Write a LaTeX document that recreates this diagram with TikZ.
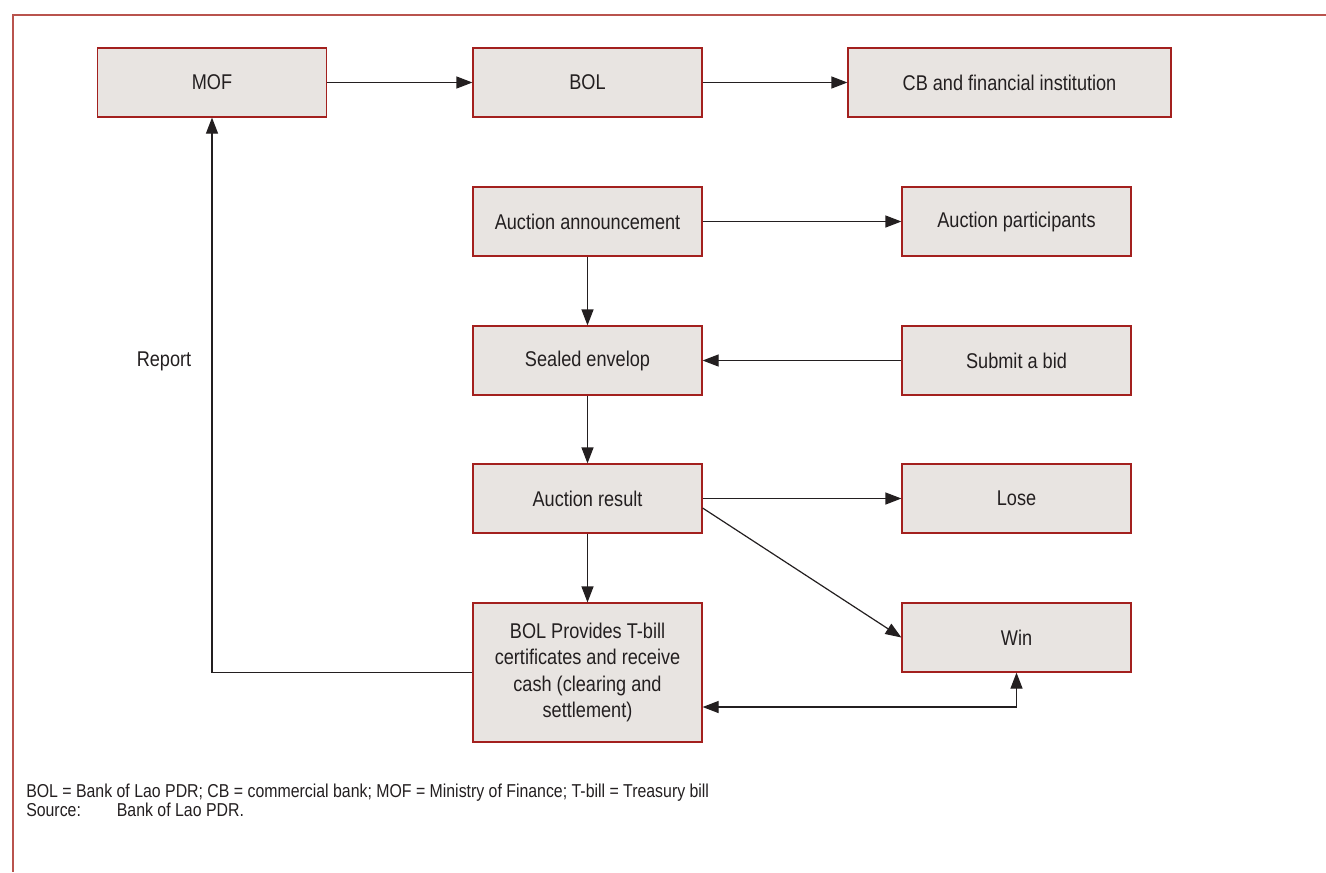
\documentclass[tikz,border=0pt]{standalone}
\usepackage{fontspec}
\setmainfont{Liberation Sans}[FakeStretch=0.85]
\usetikzlibrary{arrows.meta,calc}
\definecolor{boxfill}{HTML}{E8E4E1}
\definecolor{boxdraw}{HTML}{A3201E}
\definecolor{framecol}{HTML}{B9534D}
\definecolor{linecol}{HTML}{231F20}
\begin{document}
\begin{tikzpicture}[x=0.75pt,y=-0.75pt,
  box/.style={draw=boxdraw, fill=boxfill, line width=0.9pt, minimum width=171.75pt,
    minimum height=51.75pt, inner sep=0pt, align=center,
    font=\fontsize{16}{19.9}\selectfont, text=linecol},
  lbl/.style={inner sep=0pt, text=linecol, font=\fontsize{16}{19.9}\selectfont},
  note/.style={inner sep=0pt, text=linecol, align=left, font=\fontsize{14}{12.9}\selectfont},
  arr/.style={draw=linecol, line width=0.9pt, -{Triangle[length=12pt,width=9pt]}},
  dbl/.style={draw=linecol, line width=0.9pt, {Triangle[length=12pt,width=9pt]}-{Triangle[length=12pt,width=9pt]}},
  frameline/.style={draw=framecol, line width=1.1pt}]
\useasboundingbox (0,0) rectangle (1326,872);
\draw[frameline] (1326,15) -- (13,15) -- (13,872);

\node[box] (mof) at (212,82.5) {MOF};
\node[box] (bol) at (587.5,82.5) {BOL};
\node[box, minimum width=242.25pt] (cb) at (1009.5,82.5) {CB and financial institution};
\node[box] (ann) at (587.5,221.5) {Auction announcement};
\node[box] (part) at (1016.5,221.5) {Auction participants};
\node[box] (seal) at (587.5,360.5) {Sealed envelop};
\node[box] (bid) at (1016.5,360.5) {Submit a bid};
\node[box] (res) at (587.5,498.5) {Auction result};
\node[box] (lose) at (1016.5,498.5) {Lose};
\node[box] (win) at (1016.5,637.5) {Win};
\node[box, minimum height=104.25pt] (prov) at (587.5,672.5) {BOL Provides T-bill\\certificates and receive\\cash (clearing and\\settlement)};

\node[lbl] (report) at (164,361.7) {Report};

\node[note, anchor=base west] (fn) at (26,816) {BOL = Bank of Lao PDR; CB = commercial bank; MOF = Ministry of Finance; T-bill = Treasury bill\\\makebox[68pt][l]{Source:}Bank of Lao PDR.};

\coordinate (rep) at (212,672.5);
\coordinate (bot) at (1016.5,707);

\draw[arr] (mof) -- (bol);
\draw[arr] (bol) -- (cb);
\draw[arr] (ann) -- (part);
\draw[arr] (ann) -- (seal);
\draw[arr] (bid) -- (seal);
\draw[arr] (seal) -- (res);
\draw[arr] (res) -- (lose);
\draw[arr] ($(res.east)+(0,9.5)$) -- (win.west);
\draw[arr] (res) -- (prov);
\draw[arr] (prov.west) -- (rep) -- (mof.south);
\draw[dbl] (prov.east |- bot) -- (bot) -- (win.south);
\end{tikzpicture}
\end{document}
